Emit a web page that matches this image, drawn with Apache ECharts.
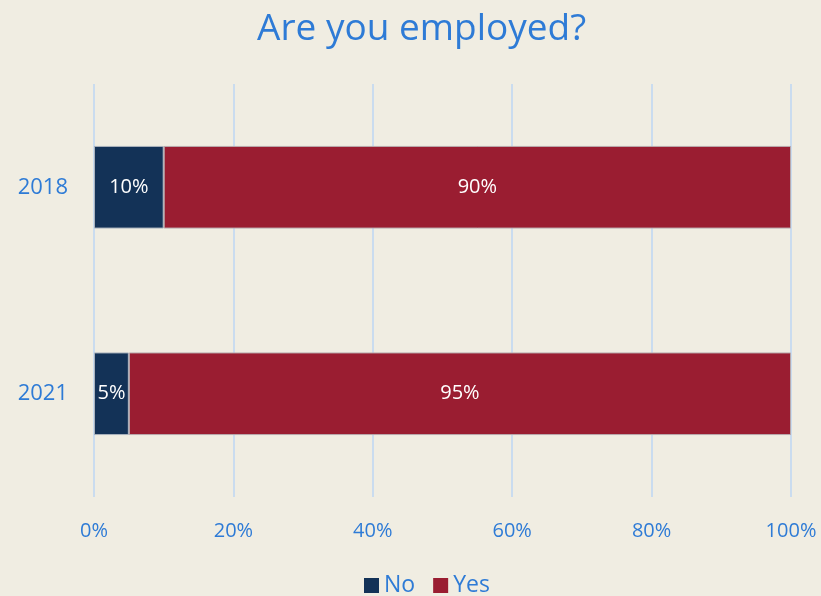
<!DOCTYPE html>
<html>
<head>
<meta charset="utf-8">
<script src="https://cdn.jsdelivr.net/npm/echarts@6/dist/echarts.min.js"></script>
<style>
  html, body { margin: 0; padding: 0; background: #f0ede2; }
  #chart { width: 821px; height: 596px; }
</style>
</head>
<body>
<div id="chart"></div>
<script>
const years = ['2018', '2021'];
const noValues = [10, 5];
const yesValues = [90, 95];

const textBlue = '#2e7bd6';
const fontFamily = '"Open Sans", "Noto Sans", sans-serif';

const chart = echarts.init(document.getElementById('chart'));
const option = {
    backgroundColor: '#f0ede2',
    title: {
        text: 'Are you employed?',
        left: 257,
        top: 7,
        textStyle: { color: textBlue, fontSize: 37, fontWeight: 'normal', fontFamily: fontFamily, lineHeight: 44 },
        padding: 0
    },
    legend: {
        bottom: -6,
        left: 359,
        icon: 'rect',
        itemWidth: 15,
        itemHeight: 15,
        itemGap: 18,
        itemStyle: { borderWidth: 0 },
        textStyle: { color: textBlue, fontSize: 23, fontFamily: fontFamily },
        data: ['No', 'Yes']
    },
    grid: { left: 94, right: 30, top: 84, bottom: 99 },
    xAxis: {
        type: 'value',
        min: 0,
        max: 100,
        interval: 20,
        axisLine: { show: false },
        axisTick: { show: false },
        splitLine: { lineStyle: { color: '#cadcef', width: 2 } },
        axisLabel: {
            formatter: '{value}%',
            color: textBlue,
            fontSize: 20,
            fontFamily: fontFamily,
            margin: 24
        }
    },
    yAxis: {
        type: 'category',
        inverse: true,
        data: years,
        axisLine: { show: false },
        axisTick: { show: false },
        axisLabel: { color: textBlue, fontSize: 22, fontFamily: fontFamily, margin: 26 }
    },
    series: [
        {
            name: 'No',
            type: 'bar',
            stack: 'total',
            barWidth: '40%',
            data: noValues,
            itemStyle: { color: '#133257', borderColor: '#a9b2bd', borderWidth: 1 },
            label: {
                show: true,
                formatter: '{c}%',
                color: '#ffffff',
                fontSize: 20,
                fontFamily: fontFamily
            }
        },
        {
            name: 'Yes',
            type: 'bar',
            stack: 'total',
            barWidth: '40%',
            data: yesValues,
            itemStyle: { color: '#9a1d31', borderColor: '#b9a9ad', borderWidth: 1 },
            label: {
                show: true,
                formatter: '{c}%',
                color: '#ffffff',
                fontSize: 20,
                fontFamily: fontFamily
            }
        }
    ]
};
chart.setOption(option);
</script>
</body>
</html>
